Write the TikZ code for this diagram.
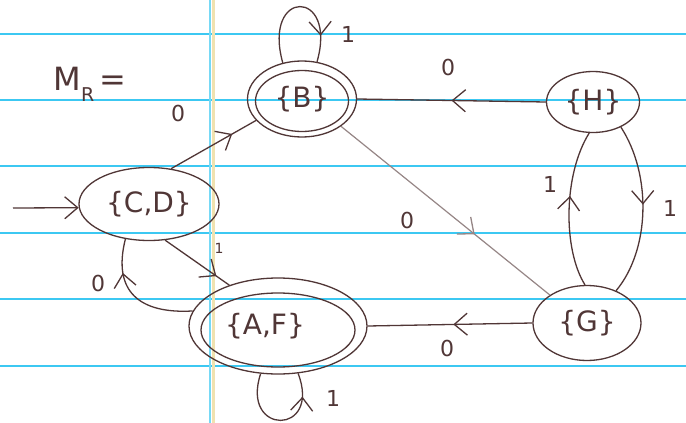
\documentclass[tikz,border=0pt]{standalone}
\usepackage{fontspec}
\setmainfont{DejaVu Sans}
\usetikzlibrary{shapes.geometric,arrows.meta,decorations.markings}
\definecolor{ink}{HTML}{503636}
\definecolor{rulecol}{HTML}{3CC8F2}
\definecolor{margcol}{HTML}{F0E2B0}
\begin{document}
\begin{tikzpicture}[x=1pt,y=-1pt,
  pen/.style={draw=ink,line width=1.3pt},
  state/.style={ellipse,pen,inner sep=0pt,text=ink,font=\fontsize{28}{28}\selectfont},
  lbl/.style={text=ink,font=\fontsize{22}{22}\selectfont},
  barb/.style={-{Straight Barb[length=13pt,width=22pt,line width=1.3pt]}},
  midarrow/.style={postaction={decorate},decoration={markings,mark=at position #1 with {\arrow{Straight Barb[length=13pt,width=22pt,line width=1.3pt]}}}},
  paperrule/.style={draw=rulecol,line width=2.8pt}
]
\fill[white] (0,0) rectangle (686,423);
\useasboundingbox (0,0) rectangle (686,423);
% lined paper
\foreach \yy in {34,100,166,233,299,366} \draw[paperrule] (0,\yy) -- (686,\yy);
\draw[draw=rulecol!70,line width=2.2pt] (210,0) -- (210,423);
\draw[draw=margcol,line width=2.6pt] (213.5,0) -- (213.5,423);

% title
\node[text=ink,font=\fontsize{32}{32}\selectfont] (mr) at (90,84) {M\raisebox{-0.35em}{\fontsize{19}{19}\selectfont R}\,=};

% states
\node[state,minimum width=109,minimum height=76] (b) at (302,99) {\{B\}};
\draw[pen] ([yshift=-2pt]b.center) ellipse [x radius=46.5, y radius=30.5];
\node[state,minimum width=93,minimum height=61] (h) at (593,102) {\{H\}};
\node[state,minimum width=108,minimum height=75] (g) at (587,323) {\{G\}};
\node[state,minimum width=140,minimum height=73] (cd) at (149,204) {\{C,D\}};
\node[state,minimum width=178,minimum height=96] (af) at (278,326) {\{A,F\}\kern26pt};
\draw[pen] ([yshift=-4pt]af.center) ellipse [x radius=77, y radius=37];

% start arrow
\coordinate (s) at (13,208);
\draw[pen,barb] (s) -- (cd.183);

% transitions
\draw[pen,midarrow=0.72] (cd.58) -- (b.205);
\node[lbl] (l0) at (178,113) {0};
\draw[pen,midarrow=0.8] (b.118) .. controls (262,-12) and (338,-12) .. (b.68);
\node[lbl] (l1) at (348,34) {1};
\draw[pen,midarrow=0.5] (h.180) -- (b.0);
\node[lbl] (l2) at (448,67) {0};
\draw[draw=ink!60,line width=1.2pt,midarrow=0.64] (b.-35) -- (g.143);
\node[lbl] (l3) at (407,220) {0};
\draw[pen,midarrow=0.58] (g.93) .. controls (563,250) and (563,175) .. (h.263);
\node[lbl] (l4) at (550,184) {1};
\draw[pen,midarrow=0.47] (h.-42) .. controls (652,175) and (650,250) .. (g.48);
\node[lbl] (l5) at (670,208) {1};
\draw[pen,midarrow=0.48] (g.180) -- (af.0);
\node[lbl] (l6) at (447,348) {0};
\draw[pen,midarrow=0.8] (cd.-66) -- (af.140);
\node[lbl,font=\fontsize{14}{14}\selectfont] (l7) at (219,248) {1};
\draw[pen,midarrow=0.72] (af.170) .. controls (140,314) and (112,292) .. (cd.236);
\node[lbl] (l8) at (98,283) {0};
\draw[pen,midarrow=0.8] (af.250) .. controls (240,436) and (322,436) .. (af.293);
\node[lbl] (l9) at (333,398) {1};
\end{tikzpicture}
\end{document}
